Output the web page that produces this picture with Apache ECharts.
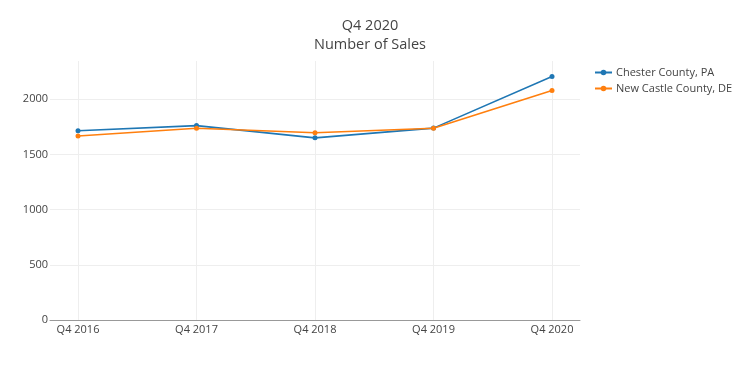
<!DOCTYPE html>
<html>
<head>
<meta charset="utf-8">
<script src="https://cdn.jsdelivr.net/npm/echarts@6/dist/echarts.min.js"></script>
<style>html,body{margin:0;padding:0;background:#fff;}#c{width:740px;height:370px;}</style>
</head>
<body>
<div id="c"></div>
<script>
const categories = ['Q4 2016', 'Q4 2017', 'Q4 2018', 'Q4 2019', 'Q4 2020'];
const chester = [1714, 1761, 1650, 1738, 2205];
const newCastle = [1667, 1737, 1696, 1737, 2078];
const seriesNames = ['Chester County, PA', 'New Castle County, DE'];
const titleLines = ['Q4 2020', 'Number of Sales'];

const FONT = '"Open Sans", Verdana, sans-serif';
const yMax = 2346;
const chart = echarts.init(document.getElementById('c'), null, {renderer: 'canvas'});
chart.setOption({
  animation: false,
  backgroundColor: '#fff',
  textStyle: {fontFamily: FONT},
  title: {
    text: titleLines.join('\n'),
    left: 'center', top: 11,
    textStyle: {fontFamily: FONT, fontSize: 14.5, fontWeight: 'normal', color: '#444', lineHeight: 19}
  },
  legend: {
    orient: 'vertical', left: 594, top: 67, padding: 0, itemWidth: 17, itemHeight: 7, itemGap: 5,
    textStyle: {fontFamily: FONT, fontSize: 11, color: '#444', padding: [0, 0, 0, -1]},
    data: seriesNames
  },
  grid: [
    {left: 50, right: 160, top: 61, bottom: 50},
    {left: 78, right: 188, top: 61, bottom: 50}
  ],
  xAxis: [
    {gridIndex: 0, type: 'value', min: 0, max: 1, axisLine: {show: true, onZero: false, lineStyle: {color: '#999', width: 1}},
     axisTick: {show: false}, axisLabel: {show: false}, splitLine: {show: false}},
    {gridIndex: 1, type: 'category', data: categories, boundaryGap: false,
     axisLine: {show: false}, axisTick: {show: false},
     axisLabel: {color: '#444', fontSize: 11, margin: 4, fontFamily: FONT},
     splitLine: {show: true, lineStyle: {color: '#eee', width: 1}}}
  ],
  yAxis: [
    {gridIndex: 0, type: 'value', min: 0, max: yMax, interval: 500,
     axisLine: {show: false}, axisTick: {show: false},
     axisLabel: {color: '#444', fontSize: 11, margin: 2, fontFamily: FONT,
       formatter: v => (v % 500 === 0 ? String(v) : '')},
     splitLine: {show: true, showMaxLine: false, lineStyle: {color: '#eee', width: 1}}},
    {gridIndex: 1, type: 'value', min: 0, max: yMax, show: false, splitLine: {show: false}}
  ],
  series: [
    {name: seriesNames[0], type: 'line', xAxisIndex: 1, yAxisIndex: 1, data: chester,
     color: '#1f77b4', symbol: 'circle', symbolSize: 5, lineStyle: {width: 1.6}, itemStyle: {color: '#1f77b4'}},
    {name: seriesNames[1], type: 'line', xAxisIndex: 1, yAxisIndex: 1, data: newCastle,
     color: '#ff7f0e', symbol: 'circle', symbolSize: 5, lineStyle: {width: 1.6}, itemStyle: {color: '#ff7f0e'}}
  ]
});
</script>
</body>
</html>
